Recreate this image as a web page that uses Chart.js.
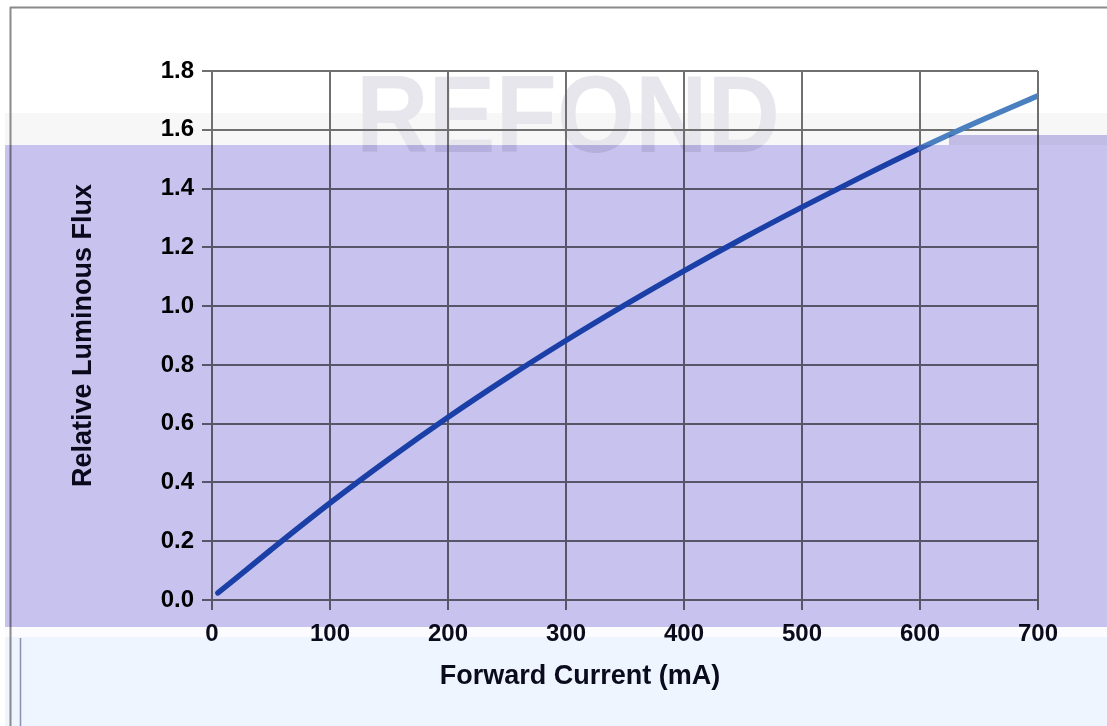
<!DOCTYPE html>
<html>
<head>
<meta charset="utf-8">
<script src="https://cdn.jsdelivr.net/npm/chart.js@4.4.1/dist/chart.umd.min.js"></script>
<style>
  html, body { margin: 0; padding: 0; background: #fff; }
  #wrap { width: 1107px; height: 726px; }
</style>
</head>
<body>
<div id="wrap"><canvas id="fluxChart" width="1107" height="726"></canvas></div>
<script>
// forward current (mA) vs relative luminous flux
const currentMa = [5, 50, 100, 150, 200, 250, 300, 350, 400, 450, 500, 550, 600, 650, 700];
const relFlux   = [0.024, 0.171, 0.33, 0.48, 0.622, 0.756, 0.883, 1.004, 1.12, 1.231, 1.337, 1.439, 1.537, 1.629, 1.716];
const xTicks = [0, 100, 200, 300, 400, 500, 600, 700];
const yTicks = [0.0, 0.2, 0.4, 0.6, 0.8, 1.0, 1.2, 1.4, 1.6, 1.8];
const xTitle = 'Forward Current (mA)';
const yTitle = 'Relative Luminous Flux';

const points = currentMa.map((x, i) => ({ x: x, y: relFlux[i] }));

// page background, frame and watermark (under the chart)
const backdrop = {
    id: 'backdrop',
    beforeDraw(chart) {
        const c = chart.ctx;
        c.save();
        c.fillStyle = '#ffffff';
        c.fillRect(0, 0, chart.width, chart.height);
        c.fillStyle = '#f7f7f7';
        c.fillRect(5, 113, chart.width - 5, 32);
        c.fillStyle = '#fcfbff';
        c.fillRect(5, 627, chart.width - 5, 10);
        c.fillStyle = '#eef5ff';
        c.fillRect(5, 637, chart.width - 5, chart.height - 637);

        // watermark, squeezed a little to look condensed
        c.save();
        c.translate(568, 152);
        c.scale(0.93, 1.02);
        c.fillStyle = '#e6e6ec';
        c.font = 'bold 108px "Liberation Sans", sans-serif';
        c.textAlign = 'center';
        c.textBaseline = 'alphabetic';
        c.fillText('REFOND', 0, 0);
        c.restore();

        // outer frame
        c.strokeStyle = '#8a8a8a';
        c.lineWidth = 2;
        c.beginPath();
        c.moveTo(10, 7.5); c.lineTo(chart.width, 7.5);
        c.moveTo(10.5, 7); c.lineTo(10.5, chart.height);
        c.stroke();
        c.strokeStyle = '#8c8fb0';
        c.lineWidth = 1.5;
        c.beginPath();
        c.moveTo(20.5, 638); c.lineTo(20.5, chart.height);
        c.stroke();
        c.restore();
    }
};

// x axis title sits left of the plot centre in the picture
const xAxisTitle = {
    id: 'xAxisTitle',
    afterDraw(chart) {
        const c = chart.ctx;
        c.save();
        c.fillStyle = '#0b0b1e';
        c.font = 'bold 27px "Liberation Sans", Arial, sans-serif';
        c.textAlign = 'center';
        c.textBaseline = 'middle';
        c.fillText(xTitle, 580, 677);
        c.restore();
    }
};

// purple tint laid over the lower part of the picture
const tint = {
    id: 'tint',
    afterDraw(chart) {
        const c = chart.ctx;
        c.save();
        c.globalCompositeOperation = 'multiply';
        c.fillStyle = '#c8c2ee';
        c.beginPath();
        c.moveTo(5, 145);
        c.lineTo(949, 145);
        c.lineTo(949, 135);
        c.lineTo(chart.width, 135);
        c.lineTo(chart.width, 627);
        c.lineTo(5, 627);
        c.closePath();
        c.fill();
        c.restore();
    }
};

const tickFont = { family: '"Liberation Sans", Arial, sans-serif', size: 24, weight: 'bold' };
const titleFont = { family: '"Liberation Sans", Arial, sans-serif', size: 27, weight: 'bold' };
const gridGrey = '#707070';

new Chart(document.getElementById('fluxChart'), {
    type: 'line',
    data: {
        datasets: [{
            data: points,
            borderWidth: 5.5,
            borderCapStyle: 'round',
            pointRadius: 0,
            cubicInterpolationMode: 'monotone',
            borderColor: '#2154b4',
            segment: {
                borderColor: ctx => ctx.p0.parsed.x >= 600 ? '#4a80c0' : '#2154b4'
            }
        }]
    },
    options: {
        responsive: false,
        animation: false,
        layout: { padding: { left: 52, right: 69, top: 71, bottom: 20 } },
        plugins: { legend: { display: false }, tooltip: { enabled: false } },
        scales: {
            x: {
                type: 'linear',
                min: 0,
                max: 700,
                afterBuildTicks: s => { s.ticks = xTicks.map(v => ({ value: v })); },
                afterFit: s => { s.height = 106; },
                ticks: { font: tickFont, color: '#0b0b1e', padding: 10, maxRotation: 0 },
                grid: { color: gridGrey, lineWidth: 2, tickLength: 10 },
                border: { color: gridGrey, width: 2 }
            },
            y: {
                min: 0,
                max: 1.8,
                afterBuildTicks: s => { s.ticks = yTicks.map(v => ({ value: v })); },
                afterFit: s => { s.width = 160; },
                ticks: { font: tickFont, color: '#000000', padding: 8, callback: v => v.toFixed(1) },
                grid: { color: gridGrey, lineWidth: 2, tickLength: 10 },
                border: { color: gridGrey, width: 2 },
                title: { display: true, text: yTitle, font: titleFont, color: '#0b0b1e', padding: { top: 15, bottom: 0 } }
            }
        }
    },
    plugins: [backdrop, xAxisTitle, tint]
});
</script>
</body>
</html>
